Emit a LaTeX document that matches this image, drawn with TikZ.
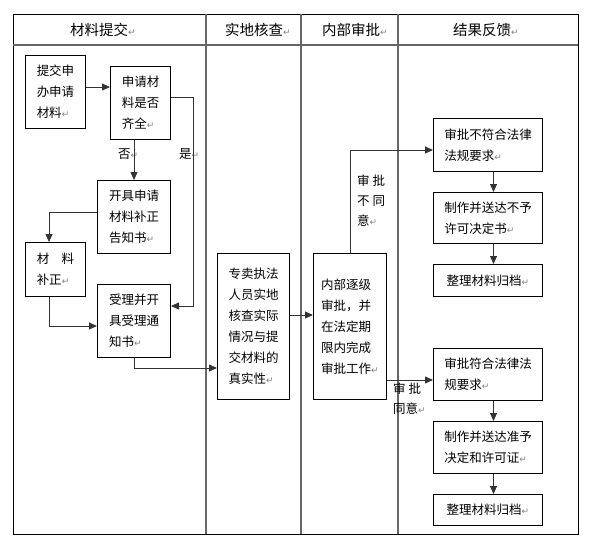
\documentclass[tikz,border=0pt]{standalone}
\usepackage{fontspec}
\setmainfont{Noto Sans CJK SC}
\newfontfamily\markfont{DejaVu Sans}
\usetikzlibrary{arrows.meta, positioning}
\newcommand{\retmark}{{\markfont\fontsize{9}{9}\selectfont\textcolor{gray}{↵}}}

\begin{document}
\begin{tikzpicture}[
    x=1pt, y=-1pt,
    node distance=20pt,
    box/.style={rectangle, draw=black, line width=1pt, anchor=north west, inner sep=0pt,
                align=left, font=\fontsize{12.5}{21}\selectfont},
    lane/.style={draw=black!60, line width=1.3pt},
    head/.style={font=\fontsize{14.5}{16}\selectfont},
    lbl/.style={anchor=west, inner sep=0pt, align=left, font=\fontsize{12.5}{20}\selectfont},
    arr/.style={-{Triangle[length=8pt, width=7pt]}, line width=0.8pt, black!80}
]
\useasboundingbox (0,0) rectangle (598,549);

% swimlanes
\draw[line width=1pt] (13,14) rectangle (578,534);
\draw[lane] (13,45) -- (578,45);
\draw[lane] (206,14) -- (206,534);
\draw[lane] (301,14) -- (301,534);
\draw[lane] (398,14) -- (398,534);
\node[head] (h1) at (103,30) {材料提交\retmark};
\node[head] (h2) at (258,30) {实地核查\retmark};
\node[head] (h3) at (355,30) {内部审批\retmark};
\node[head] (h4) at (486,30) {结果反馈\retmark};

% boxes
\node[box, minimum width=60pt, minimum height=73pt] (submit) at (25,55) {提交申\\办申请\\材料\retmark};
\node[box, minimum width=60pt, minimum height=73pt] (check) at (110,66) {申请材\\料是否\\齐全\retmark};
\node[box, minimum width=73pt, minimum height=73pt] (notice) at (97,180) {开具申请\\材料补正\\告知书\retmark};
\node[box, minimum width=60pt, minimum height=54pt] (amend) at (25,242) {材\hspace{1em}料\\补正\retmark};
\node[box, minimum width=73pt, minimum height=73pt] (accept) at (97,284) {受理并开\\具受理通\\知书\retmark};
\node[box, minimum width=72pt, minimum height=146pt] (verify) at (217,253) {专卖执法\\人员实地\\核查实际\\情况与提\\交材料的\\真实性\retmark};
\node[box, minimum width=73pt, minimum height=146pt] (approve) at (313,253) {内部逐级\\审批，并\\在法定期\\限内完成\\审批工作\retmark};

\node[box, minimum width=109pt, minimum height=53pt] (reject) at (433,118) {审批不符合法律\\法规要求\retmark};
\node[box, minimum width=109pt, minimum height=51pt, below=of reject] (refuse) {制作并送达不予\\许可决定书\retmark};
\node[box, minimum width=109pt, minimum height=32pt, below=of refuse] (archivea) {整理材料归档\retmark};
\node[box, minimum width=109pt, minimum height=52pt] (grant) at (433,348) {审批符合法律法\\规要求\retmark};
\node[box, minimum width=109pt, minimum height=52pt, below=of grant] (permit) {制作并送达准予\\决定和许可证\retmark};
\node[box, minimum width=109pt, minimum height=31pt, below=of permit] (archiveb) {整理材料归档\retmark};

% labels
\node[lbl] (no) at (118,154) {否\retmark};
\node[lbl] (yes) at (179,154) {是\retmark};
\node[lbl] (disagree) at (357,201) {审 批\\不 同\\意\retmark};
\node[lbl] (agree) at (393,399) {审 批\\同意\retmark};

% connectors
\draw[arr] (submit.east |- 0,87) -- (check.west |- 0,87);
\draw[arr] (check.south -| notice.north) -- (notice.north);
\draw[arr] (check.east |- 0,97) -- (193,97) |- (accept.east |- 0,306);
\draw[arr] (notice.west |- 0,212) -| (amend.north -| 49,0);
\draw[arr] (amend.south -| 49,0) |- (accept.west |- 0,326);
\draw[arr] (accept.south) |- (verify.west |- 0,368);
\draw[arr] (verify.east |- 0,315) -- (approve.west |- 0,315);
\draw[arr] (approve.north) |- (reject.west |- 0,150);
\draw[arr] (approve.east |- 0,380) -- (grant.west |- 0,380);
\foreach \a/\b in {reject/refuse, refuse/archivea, grant/permit, permit/archiveb}
  \draw[arr] ([xshift=5.5pt]\a.south) -- ([xshift=5.5pt]\b.north);
\end{tikzpicture}
\end{document}
